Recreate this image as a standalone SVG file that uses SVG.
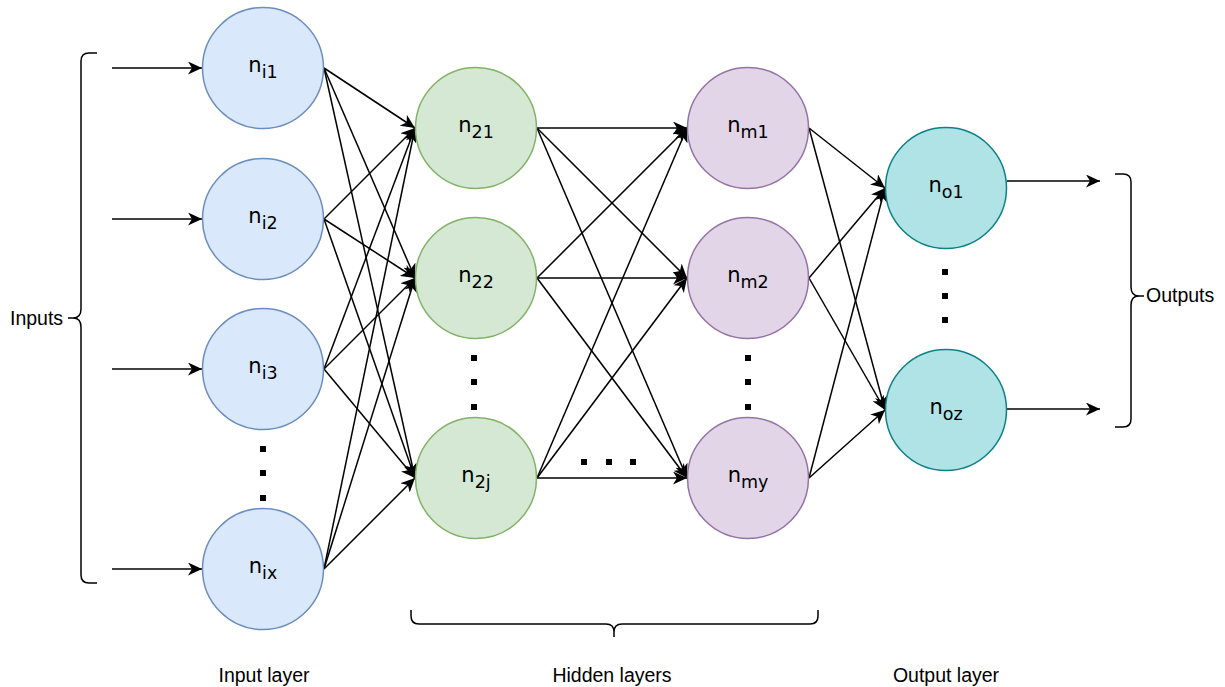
<svg xmlns="http://www.w3.org/2000/svg" width="1225" height="687" viewBox="0 0 1225 687">
  <style>
    .edge { stroke: #000; stroke-width: 1.5; fill: none; marker-end: url(#arr); }
    .brace { stroke: #000; stroke-width: 1.5; fill: none; }
    .node { stroke-width: 1.5; }
    .inp { fill: #dae8fc; stroke: #6c8ebf; }
    .hid1 { fill: #d5e8d4; stroke: #82b366; }
    .hid2 { fill: #e1d5e7; stroke: #9673a6; }
    .out { fill: #b0e3e6; stroke: #0e8088; }
    .lbl { font-family: "DejaVu Sans", Verdana, sans-serif; font-size: 21px; fill: #000; text-anchor: middle; }
    .sub { font-size: 17.5px; }
    .cap { font-family: "Liberation Sans", Arial, sans-serif; font-size: 19.5px; fill: #000; }
    .dot { fill: #000; }
  </style>
  <defs>
    <marker id="arr" markerUnits="userSpaceOnUse" markerWidth="15" markerHeight="13" viewBox="0 0 15 13" refX="14" refY="6.5" orient="auto">
      <path d="M0,0 L14,6.5 L0,13 L4,6.5 Z" fill="#000"/>
    </marker>
  </defs>

  <!-- connectors -->
  <g id="connectors">
    <!-- external inputs -->
    <line class="edge" x1="112" y1="68" x2="202" y2="68"/>
    <line class="edge" x1="112" y1="219" x2="202" y2="219"/>
    <line class="edge" x1="112" y1="369" x2="202" y2="369"/>
    <line class="edge" x1="112" y1="569" x2="202" y2="569"/>
    <!-- input layer to first hidden layer -->
    <line class="edge" x1="324" y1="68" x2="415" y2="128"/>
    <line class="edge" x1="324" y1="68" x2="415" y2="278"/>
    <line class="edge" x1="324" y1="68" x2="415" y2="478"/>
    <line class="edge" x1="324" y1="219" x2="415" y2="128"/>
    <line class="edge" x1="324" y1="219" x2="415" y2="278"/>
    <line class="edge" x1="324" y1="219" x2="415" y2="478"/>
    <line class="edge" x1="324" y1="369" x2="415" y2="128"/>
    <line class="edge" x1="324" y1="369" x2="415" y2="278"/>
    <line class="edge" x1="324" y1="369" x2="415" y2="478"/>
    <line class="edge" x1="324" y1="569" x2="415" y2="128"/>
    <line class="edge" x1="324" y1="569" x2="415" y2="278"/>
    <line class="edge" x1="324" y1="569" x2="415" y2="478"/>
    <!-- first hidden layer to last hidden layer -->
    <line class="edge" x1="537" y1="128" x2="687" y2="128"/>
    <line class="edge" x1="537" y1="128" x2="687" y2="278"/>
    <line class="edge" x1="537" y1="128" x2="687" y2="478"/>
    <line class="edge" x1="537" y1="278" x2="687" y2="128"/>
    <line class="edge" x1="537" y1="278" x2="687" y2="278"/>
    <line class="edge" x1="537" y1="278" x2="687" y2="478"/>
    <line class="edge" x1="537" y1="478" x2="687" y2="128"/>
    <line class="edge" x1="537" y1="478" x2="687" y2="278"/>
    <line class="edge" x1="537" y1="478" x2="687" y2="478"/>
    <!-- last hidden layer to output layer -->
    <line class="edge" x1="809" y1="128" x2="885" y2="188"/>
    <line class="edge" x1="809" y1="128" x2="885" y2="410"/>
    <line class="edge" x1="809" y1="278" x2="885" y2="188"/>
    <line class="edge" x1="809" y1="278" x2="885" y2="410"/>
    <line class="edge" x1="809" y1="478" x2="885" y2="188"/>
    <line class="edge" x1="809" y1="478" x2="885" y2="410"/>
    <!-- outputs -->
    <line class="edge" x1="1007" y1="181" x2="1100" y2="181"/>
    <line class="edge" x1="1007" y1="409" x2="1100" y2="409"/>
  </g>

  <!-- input layer -->
  <g id="n_i1"><circle class="node inp" cx="263" cy="68" r="60.5"/><text class="lbl" x="263" y="72">n<tspan class="sub" dy="5.5">i1</tspan></text></g>
  <g id="n_i2"><circle class="node inp" cx="263" cy="219" r="60.5"/><text class="lbl" x="263" y="223">n<tspan class="sub" dy="5.5">i2</tspan></text></g>
  <g id="n_i3"><circle class="node inp" cx="263" cy="369" r="60.5"/><text class="lbl" x="263" y="373">n<tspan class="sub" dy="5.5">i3</tspan></text></g>
  <g id="n_ix"><circle class="node inp" cx="263" cy="569" r="60.5"/><text class="lbl" x="263" y="573">n<tspan class="sub" dy="5.5">ix</tspan></text></g>

  <!-- first hidden layer -->
  <g id="n_21"><circle class="node hid1" cx="476" cy="128" r="60.5"/><text class="lbl" x="476" y="132">n<tspan class="sub" dy="5.5">21</tspan></text></g>
  <g id="n_22"><circle class="node hid1" cx="476" cy="278" r="60.5"/><text class="lbl" x="476" y="282">n<tspan class="sub" dy="5.5">22</tspan></text></g>
  <g id="n_2j"><circle class="node hid1" cx="476" cy="478" r="60.5"/><text class="lbl" x="476" y="482">n<tspan class="sub" dy="5.5">2j</tspan></text></g>

  <!-- last hidden layer -->
  <g id="n_m1"><circle class="node hid2" cx="748" cy="128" r="60.5"/><text class="lbl" x="748" y="132">n<tspan class="sub" dy="5.5">m1</tspan></text></g>
  <g id="n_m2"><circle class="node hid2" cx="748" cy="278" r="60.5"/><text class="lbl" x="748" y="282">n<tspan class="sub" dy="5.5">m2</tspan></text></g>
  <g id="n_my"><circle class="node hid2" cx="748" cy="478" r="60.5"/><text class="lbl" x="748" y="482">n<tspan class="sub" dy="5.5">my</tspan></text></g>

  <!-- output layer -->
  <g id="n_o1"><circle class="node out" cx="946" cy="188" r="60.5"/><text class="lbl" x="946" y="192">n<tspan class="sub" dy="5.5">o1</tspan></text></g>
  <g id="n_oz"><circle class="node out" cx="946" cy="410" r="60.5"/><text class="lbl" x="946" y="414">n<tspan class="sub" dy="5.5">oz</tspan></text></g>

  <!-- ellipsis dots -->
  <g id="ellipses">
    <rect class="dot" x="260" y="446" width="6" height="6"/>
    <rect class="dot" x="260" y="470" width="6" height="6"/>
    <rect class="dot" x="260" y="495" width="6" height="6"/>
    <rect class="dot" x="471" y="355" width="6" height="6"/>
    <rect class="dot" x="471" y="379" width="6" height="6"/>
    <rect class="dot" x="471" y="404" width="6" height="6"/>
    <rect class="dot" x="745" y="355" width="6" height="6"/>
    <rect class="dot" x="745" y="379" width="6" height="6"/>
    <rect class="dot" x="745" y="404" width="6" height="6"/>
    <rect class="dot" x="581" y="459" width="6" height="6"/>
    <rect class="dot" x="606" y="459" width="6" height="6"/>
    <rect class="dot" x="630" y="459" width="6" height="6"/>
    <rect class="dot" x="942" y="269" width="6" height="6"/>
    <rect class="dot" x="942" y="293" width="6" height="6"/>
    <rect class="dot" x="942" y="317" width="6" height="6"/>
  </g>

  <!-- inputs brace -->
  <g id="inputs">
    <path class="brace" d="M97,53 L89,53 Q81,53 81,61 L81,309 Q81,318 73,318 L68,318 M73,318 Q81,318 81,327 L81,575 Q81,583 89,583 L97,583"/>
    <text class="cap" x="10" y="325">Inputs</text>
  </g>

  <!-- outputs brace -->
  <g id="outputs">
    <path class="brace" d="M1115,174 L1123,174 Q1131,174 1131,182 L1131,287 Q1131,296 1139,296 L1144,296 M1139,296 Q1131,296 1131,305 L1131,419 Q1131,427 1123,427 L1115,427"/>
    <text class="cap" x="1146" y="302">Outputs</text>
  </g>

  <!-- hidden layers brace -->
  <g id="hidden_layers">
    <path class="brace" d="M411,610 L411,616 Q411,624 419,624 L606,624 Q614,624 614,632 L614,637 M614,632 Q614,624 622,624 L810,624 Q818,624 818,616 L818,610"/>
  </g>

  <!-- layer captions -->
  <text class="cap" x="264" y="682" text-anchor="middle">Input layer</text>
  <text class="cap" x="612" y="682" text-anchor="middle">Hidden layers</text>
  <text class="cap" x="946" y="682" text-anchor="middle">Output layer</text>
</svg>
